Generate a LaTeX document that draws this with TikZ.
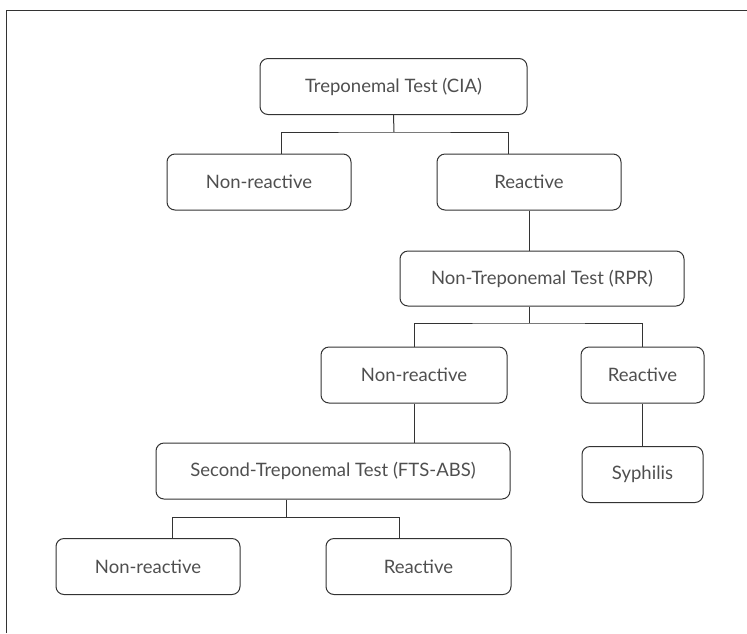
\documentclass[tikz,border=0pt]{standalone}
\usepackage{fontspec}
\setmainfont{Lato}
\definecolor{linegray}{HTML}{333333}
\definecolor{textgray}{HTML}{4F4F4F}
\begin{document}
\begin{tikzpicture}[x=1pt,y=-1pt,
  box/.style={draw=linegray, line width=1pt, rounded corners=8pt, align=center,
    minimum height=56pt, inner sep=0pt, text=textgray, font=\fontsize{18.5}{22}\selectfont},
  link/.style={draw=linegray, line width=1pt}]
\useasboundingbox (0,0) rectangle (747,633);
\draw[link] (6.5,633) -- (6.5,10.5) -- (747,10.5);
\node[box, minimum width=267pt] (cia) at (393.5,86.5) {Treponemal Test (CIA)};
\node[box, minimum width=184pt] (nr1) at (259,182) {Non-reactive};
\node[box, minimum width=184pt] (r1) at (529,182) {Reactive};
\node[box, minimum width=284pt, minimum height=55pt] (rpr) at (542,278.5) {Non-Treponemal Test (RPR)};
\node[box, minimum width=186pt] (nr2) at (414,375) {Non-reactive};
\node[box, minimum width=123pt] (r2) at (642.5,375) {Reactive};
\node[box, minimum width=121pt] (syph) at (642.5,474.5) {Syphilis};
\node[box, minimum width=354pt] (fts) at (333,471) {Second-Treponemal Test (FTS-ABS)};
\node[box, minimum width=184pt] (nr3) at (148,566.5) {Non-reactive};
\node[box, minimum width=185pt] (r3) at (418.5,566.5) {Reactive};
% junctions
\coordinate (j1) at (394,132);
\coordinate (j2) at (529,323);
\coordinate (j3) at (286,517);
\draw[link] (cia.south) -- (j1);
\draw[link] ([xshift=22pt]nr1.north) |- (j1) -| ([xshift=-21pt]r1.north);
\draw[link] (r1.south) -- (rpr.north -| r1.south);
\draw[link] (rpr.south -| j2) -- (j2);
\draw[link] (nr2.north) |- (j2) -| (r2.north);
\draw[link] (nr2.south) -- (fts.north -| nr2.south);
\draw[link] (r2.south) -- (syph.north);
\draw[link] (fts.south -| j3) -- (j3);
\draw[link] ([xshift=24pt]nr3.north) |- (j3) -| ([xshift=-19.5pt]r3.north);
\end{tikzpicture}
\end{document}
